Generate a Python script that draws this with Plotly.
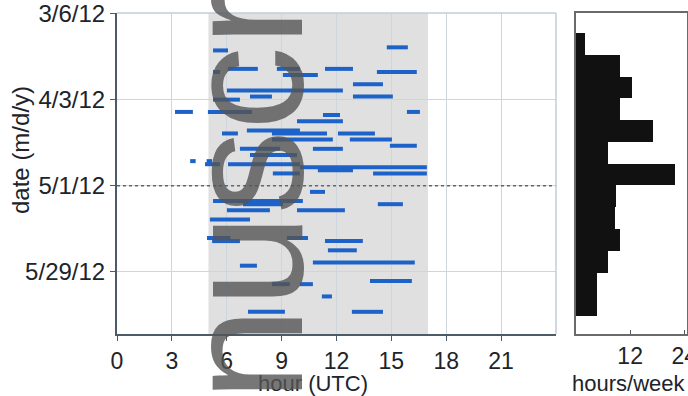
import plotly.graph_objects as go

# ---------------- data ----------------
seg_dates = [
    "2012-03-17", "2012-03-18", "2012-03-24", "2012-03-24", "2012-03-24",
    "2012-03-25", "2012-03-25", "2012-03-26", "2012-03-29", "2012-03-31",
    "2012-04-02", "2012-04-02", "2012-04-03", "2012-04-07", "2012-04-07",
    "2012-04-07", "2012-04-08", "2012-04-10", "2012-04-13", "2012-04-14",
    "2012-04-14", "2012-04-14", "2012-04-16", "2012-04-16", "2012-04-18",
    "2012-04-19", "2012-04-19", "2012-04-21", "2012-04-23", "2012-04-23",
    "2012-04-24", "2012-04-24", "2012-04-25", "2012-04-26", "2012-04-27",
    "2012-04-27", "2012-05-03", "2012-05-06", "2012-05-07", "2012-05-07",
    "2012-05-09", "2012-05-09", "2012-05-12", "2012-05-18", "2012-05-18",
    "2012-05-19", "2012-05-19", "2012-05-22", "2012-05-26", "2012-05-27",
    "2012-06-01", "2012-06-02", "2012-06-02", "2012-06-06", "2012-06-11",
    "2012-06-11",
]
seg_start = [
    14.75, 5.25, 6.07, 8.74, 11.37,
    5.25, 14.21, 9.07, 12.90, 6.01,
    7.27, 12.90, 5.25, 3.17, 4.97,
    15.85, 11.26, 9.84, 7.10, 5.74,
    8.47, 12.08, 8.47, 12.73, 14.92,
    6.72, 10.71, 7.27, 4.00, 4.90,
    4.81, 6.07, 10.00, 10.98, 8.52,
    14.00, 10.55, 5.25, 6.89, 14.26,
    6.01, 9.84, 5.08, 4.92, 9.29,
    5.20, 11.37, 11.53, 10.71, 6.72,
    13.83, 8.47, 10.00, 11.20, 7.16,
    12.84,
]
seg_end = [
    15.90, 6.07, 7.70, 10.00, 12.90,
    5.63, 16.39, 10.98, 14.54, 12.35,
    8.47, 15.08, 6.72, 4.15, 7.38,
    16.56, 12.19, 12.35, 10.00, 6.61,
    11.48, 14.10, 11.80, 15.03, 16.39,
    8.91, 12.35, 9.84, 4.30, 5.20,
    5.63, 10.00, 16.94, 12.90, 10.00,
    16.94, 11.37, 10.16, 9.07, 15.63,
    8.36, 12.46, 7.27, 6.20, 10.44,
    6.72, 13.44, 13.11, 16.28, 7.65,
    16.12, 9.45, 10.71, 11.75, 9.18,
    14.54,
]

week_mid = [
    "2012-03-15 12:00", "2012-03-22 12:00", "2012-03-29 12:00", "2012-04-05 12:00",
    "2012-04-12 12:00", "2012-04-19 12:00", "2012-04-26 12:00", "2012-05-03 12:00",
    "2012-05-10 12:00", "2012-05-17 12:00", "2012-05-24 12:00", "2012-05-31 12:00",
    "2012-06-07 12:00",
]
week_hours = [2.0, 9.75, 12.4, 9.75, 17.1, 7.1, 21.95, 8.9, 8.6, 9.75, 7.1, 4.65, 4.65]

hour_ticks = [0, 3, 6, 9, 12, 15, 18, 21]
date_ticks = ["2012-03-06", "2012-04-03", "2012-05-01", "2012-05-29"]
date_labels = ["3/6/12", "4/3/12", "5/1/12", "5/29/12"]
hist_ticks = [12, 24]

# ---------------- figure ----------------
W, H = 688, 396
FONT = "Liberation Sans, Arial, sans-serif"
TXT = "#20242a"

xs, ys = [], []
for d, a, b in zip(seg_dates, seg_start, seg_end):
    xs += [a, b, None]
    ys += [d, d, None]

fig = go.Figure()
fig.add_trace(go.Scatter(x=xs, y=ys, mode="lines",
                         line=dict(color="#1c62c8", width=4),
                         xaxis="x", yaxis="y", hoverinfo="skip", showlegend=False))
fig.add_trace(go.Bar(x=week_hours, y=week_mid, orientation="h",
                     width=7 * 24 * 3600 * 1000, marker=dict(color="#111111", line=dict(width=0)),
                     xaxis="x2", yaxis="y2", showlegend=False))

ydom = [1 - 334 / H, 1 - 13 / H]
axis_col = "#4d5a68"
grid_col = "#cdd5df"

fig.update_layout(
    width=W, height=H,
    margin=dict(l=0, r=0, t=0, b=0, autoexpand=False),
    paper_bgcolor="white", plot_bgcolor="white",
    font=dict(family=FONT, color=TXT),
    bargap=0,
    xaxis=dict(domain=[117 / W, 556 / W], range=[0, 24], tickvals=hour_ticks,
               ticks="outside", ticklen=5, tickcolor=axis_col,
               showline=True, linecolor=axis_col, linewidth=2,
               showgrid=True, gridcolor=grid_col, gridwidth=1, zeroline=False,
               ticklabeloverflow="allow", automargin=False,
               tickfont=dict(size=23, color=TXT), anchor="y"),
    yaxis=dict(domain=ydom, type="date",
               range=["2012-06-18 05:00", "2012-03-05 20:00"],
               tickvals=date_ticks, ticktext=date_labels,
               ticks="outside", ticklen=5, tickcolor=axis_col,
               showline=True, linecolor=axis_col, linewidth=2,
               showgrid=True, gridcolor=grid_col, gridwidth=1, zeroline=False,
               ticklabeloverflow="allow", automargin=False,
               tickfont=dict(size=24, color=TXT), anchor="x"),
    xaxis2=dict(domain=[576 / W, 687 / W], range=[0, 24.6], tickvals=hist_ticks,
                ticks="inside", ticklen=4, tickcolor="#555",
                showline=True, linecolor="#6a6a6a", linewidth=2, mirror=True,
                showgrid=False, zeroline=False,
                ticklabeloverflow="allow", automargin=False,
                tickfont=dict(size=23, color=TXT), anchor="y2"),
    yaxis2=dict(domain=ydom, type="date",
                range=["2012-06-16 18:00", "2012-03-05 14:00"],
                showticklabels=False, ticks="", automargin=False,
                showline=True, linecolor="#6a6a6a", linewidth=2, mirror=True,
                showgrid=False, zeroline=False, anchor="x2"),
    shapes=[
        dict(type="rect", xref="x", yref="y domain", x0=5, x1=17, y0=0, y1=1,
             fillcolor="#e0e0e0", line=dict(width=0), layer="below"),
        dict(type="line", xref="x domain", yref="y", x0=0, x1=1,
             y0="2012-05-01", y1="2012-05-01",
             line=dict(color="#5a6878", width=1.5, dash="dot")),
        dict(type="line", xref="x domain", yref="y domain", x0=0, x1=1, y0=1, y1=1,
             line=dict(color="#c3ccd8", width=1.5)),
        dict(type="line", xref="x domain", yref="y domain", x0=1, x1=1, y0=0, y1=1,
             line=dict(color="#c3ccd8", width=1.5)),
    ],
    annotations=[
        dict(text="hour (UTC)", x=313 / W, y=1 - 383 / H, xref="paper", yref="paper",
             xanchor="center", yanchor="middle", showarrow=False,
             font=dict(size=22, color=TXT)),
        dict(text="hours/week", x=629 / W, y=1 - 383 / H, xref="paper", yref="paper",
             xanchor="center", yanchor="middle", showarrow=False,
             font=dict(size=22, color=TXT)),
        dict(text="date (m/d/y)", x=20 / W, y=1 - 150 / H, xref="paper", yref="paper",
             xanchor="center", yanchor="middle", showarrow=False, textangle=-90,
             font=dict(size=24, color=TXT)),
        dict(text="nuscr", x=244 / W, y=1 - 196 / H, xref="paper", yref="paper",
             xanchor="center", yanchor="middle", showarrow=False, textangle=-90,
             font=dict(size=168, color="rgba(85,85,85,0.8)", family=FONT)),
    ],
)

fig.write_html("out.html")
